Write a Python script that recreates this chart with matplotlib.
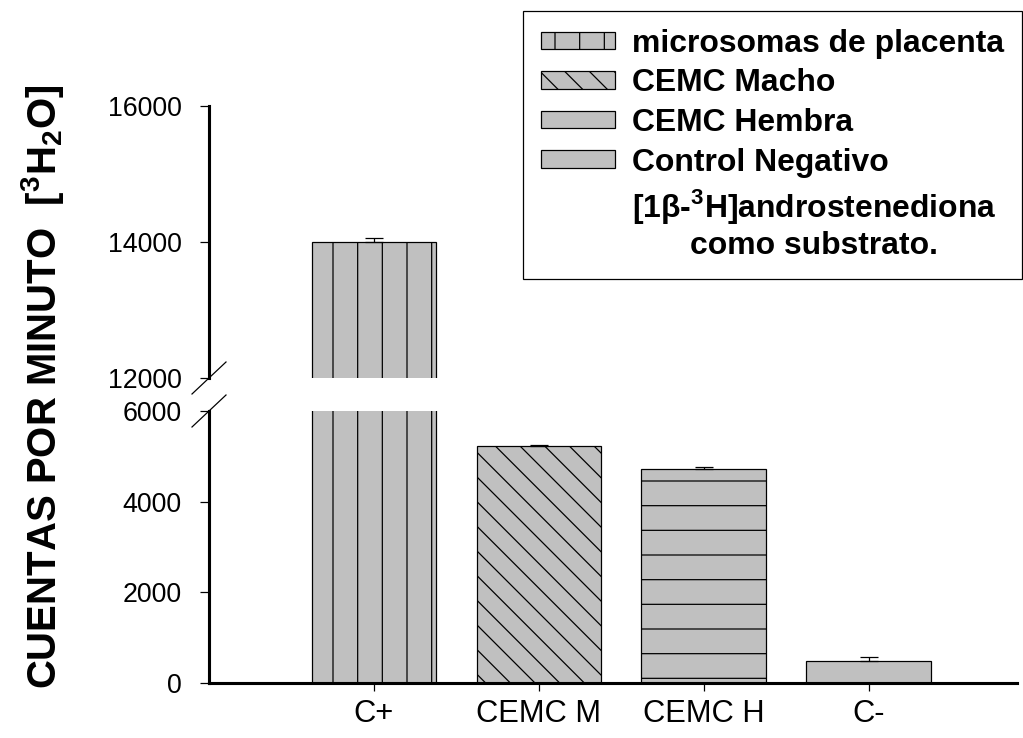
import numpy as np
import matplotlib
matplotlib.use('Agg')
import matplotlib.pyplot as plt
from matplotlib.patches import Patch

plt.rcParams['font.family'] = ['Liberation Sans', 'DejaVu Sans']
plt.rcParams['mathtext.fontset'] = 'custom'
plt.rcParams['mathtext.rm'] = 'Liberation Sans'
plt.rcParams['mathtext.bf'] = 'Liberation Sans:bold'
plt.rcParams['hatch.linewidth'] = 0.6

# cuentas por minuto de cada grupo
categories = ['C+', 'CEMC M', 'CEMC H', 'C-']
series = ['microsomas de placenta', 'CEMC Macho', 'CEMC Hembra', 'Control Negativo']
counts = [14000, 5230, 4720, 480]
errors = [60, 30, 40, 100]
hatches = ['|', '\\\\', '-', '']
note = '[1β-$^{\\mathbf{3}}$H]androstenediona\ncomo substrato.'

dpi = 148
fig = plt.figure(figsize=(1023 / dpi, 738 / dpi), dpi=dpi)
L, W, H = 209 / 1023, (1017 - 209) / 1023, 272 / 738
ax_top = fig.add_axes([L, (738 - 378) / 738, W, H])
ax_bot = fig.add_axes([L, (738 - 683) / 738, W, H])

x = np.arange(len(categories))
for ax in (ax_top, ax_bot):
    for i in range(len(categories)):
        ax.bar(x[i], counts[i], width=0.755, color='#c0c0c0', edgecolor='k',
               linewidth=0.6, hatch=hatches[i], label=series[i], zorder=2)
        ax.errorbar(x[i], counts[i], yerr=[[0], [errors[i]]], fmt='none',
                    ecolor='k', elinewidth=0.6, capsize=4.2, capthick=0.6, zorder=3)
    ax.set_xlim(-1.0, 3.9)
    for s in ('top', 'right'):
        ax.spines[s].set_visible(False)
    ax.spines['left'].set_linewidth(1.5)
    ax.tick_params(axis='y', direction='out', length=4.4, width=0.6,
                   labelsize=13, pad=8.8)

ax_top.set_ylim(12000, 16000)
ax_top.set_yticks([12000, 14000, 16000])
ax_top.spines['bottom'].set_visible(False)
ax_top.set_xticks([])

ax_bot.set_ylim(0, 6000)
ax_bot.set_yticks([0, 2000, 4000, 6000])
ax_bot.spines['bottom'].set_linewidth(1.5)
ax_bot.set_xticks(x)
ax_bot.set_xticklabels(categories)
ax_bot.tick_params(axis='x', direction='out', length=4, width=0.6,
                   labelsize=15, pad=4)

# marcas de corte del eje
dx = 17 / (W * 1023)
dy = 16 / (H * 738)
ax_bot.plot([-dx, dx], [1 - dy, 1 + dy], transform=ax_bot.transAxes,
            color='k', lw=0.6, clip_on=False)
ax_top.plot([-dx, dx], [-dy, dy], transform=ax_top.transAxes,
            color='k', lw=0.6, clip_on=False)

fig.text(43 / 1023, 1 - 387 / 738,
         r'CUENTAS POR MINUTO  [$\mathbf{^3H_2O}$]',
         rotation=90, ha='center', va='center', fontsize=19.5, fontweight='bold')

handles, labels = ax_bot.get_legend_handles_labels()
handles.append(Patch(facecolor='none', edgecolor='none'))
labels.append(note)
leg = fig.legend(handles, labels, loc='upper right',
                 bbox_to_anchor=(1022 / 1023, 1 - 11 / 738),
                 bbox_transform=fig.transFigure, borderaxespad=0,
                 prop={'weight': 'bold', 'size': 15.5},
                 handlelength=2.3, handleheight=0.47, handletextpad=0.55,
                 labelspacing=0.3, borderpad=0.56, fancybox=False,
                 framealpha=1, edgecolor='k')
leg.get_frame().set_linewidth(0.6)
for t in leg.get_texts():
    t.set_multialignment('center')

fig.savefig('out.png', dpi=dpi, facecolor='white')
